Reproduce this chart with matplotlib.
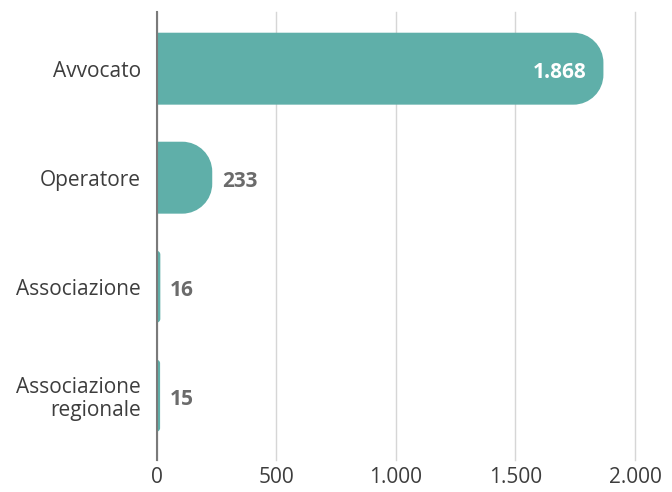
import matplotlib
matplotlib.use("Agg")
import matplotlib.pyplot as plt
from matplotlib.path import Path
from matplotlib.patches import PathPatch
from matplotlib.ticker import FuncFormatter

# Data
categories = ["Avvocato", "Operatore", "Associazione", "Associazione\nregionale"]
values = [1868, 233, 16, 15]
xticks = [0, 500, 1000, 1500, 2000]

BAR_COLOR = "#5fafa9"
TEXT_COLOR = "#3d3d3d"
VALUE_COLOR = "#6b6b6b"

plt.rcParams["font.family"] = ["Open Sans", "DejaVu Sans"]


def it_num(v):
    return f"{int(v):,}".replace(",", ".")


fig = plt.figure(figsize=(6.72, 4.92), dpi=100)
ax = fig.add_axes([156.5 / 672, 1 - 460 / 492, (635 - 156.5) / 672, 448 / 492])
ax.set_xlim(0, 2000)
ax.set_ylim(3.59, -0.52)

# pixel scale for rounded bar ends
p0 = ax.transData.transform((0, 0))
p1 = ax.transData.transform((1, 1))
px_x = abs(p1[0] - p0[0])
px_y = abs(p1[1] - p0[1])

bar_h = 0.66
k = 0.5523
for i, v in enumerate(values):
    w_px = v * px_x
    r_px = min(30, w_px)
    rx = r_px / px_x
    ry = r_px / px_y
    y0 = i - bar_h / 2
    y1 = i + bar_h / 2
    verts = [
        (0, y0), (v - rx, y0),
        (v - rx + k * rx, y0), (v, y0 + ry - k * ry), (v, y0 + ry),
        (v, y1 - ry),
        (v, y1 - ry + k * ry), (v - rx + k * rx, y1), (v - rx, y1),
        (0, y1), (0, y0),
    ]
    codes = [Path.MOVETO, Path.LINETO,
             Path.CURVE4, Path.CURVE4, Path.CURVE4,
             Path.LINETO,
             Path.CURVE4, Path.CURVE4, Path.CURVE4,
             Path.LINETO, Path.CLOSEPOLY]
    ax.add_patch(PathPatch(Path(verts, codes), facecolor=BAR_COLOR,
                           edgecolor="none", zorder=2))

    if v > 1000:
        ax.annotate(it_num(v), (v, i), xytext=(-12, -1), textcoords="offset points",
                    ha="right", va="center_baseline", color="white", fontsize=15,
                    fontweight="bold")
    else:
        ax.annotate(it_num(v), (v, i), xytext=(7, -1), textcoords="offset points",
                    ha="left", va="center_baseline", color=VALUE_COLOR, fontsize=15,
                    fontweight="bold")

ax.set_yticks(range(len(categories)))
ax.set_yticklabels(categories, color=TEXT_COLOR, fontsize=15, linespacing=1.1)
for lbl in ax.get_yticklabels():
    lbl.set_verticalalignment("center_baseline")
ax.set_xticks(xticks)
ax.xaxis.set_major_formatter(FuncFormatter(lambda v, p: it_num(v)))
ax.tick_params(axis="x", length=0, pad=5, labelsize=15, labelcolor=TEXT_COLOR)
ax.tick_params(axis="y", length=0, pad=11)

ax.grid(axis="x", color="#d6d6d6", linewidth=1, zorder=0)
for gl in ax.get_xgridlines():
    gl.set_clip_on(False)
ax.set_axisbelow(True)
for s in ["top", "right", "bottom"]:
    ax.spines[s].set_visible(False)
ax.spines["left"].set_color("#7a7a7a")
ax.spines["left"].set_linewidth(1.5)
ax.spines["left"].set_zorder(3)

fig.savefig("out.png", dpi=100)
